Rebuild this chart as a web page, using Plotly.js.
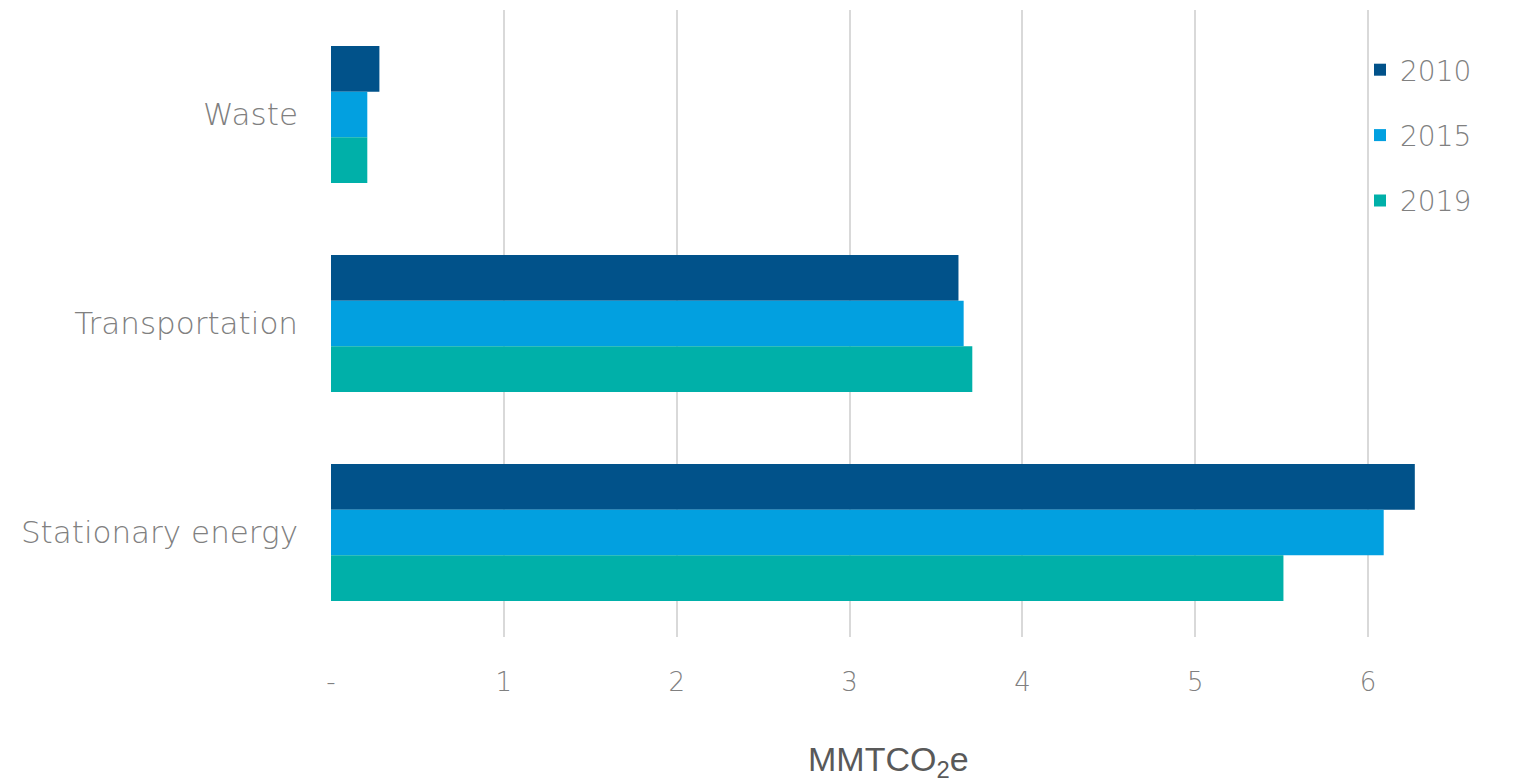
<!DOCTYPE html>
<html>
<head>
<meta charset="utf-8">
<script src="https://cdn.plot.ly/plotly-3.0.1.min.js"></script>
<style>
html,body{margin:0;padding:0;overflow:hidden;background:#fff;}
#chart{width:1541px;height:783px;}
</style>
</head>
<body>
<div id="chart"></div>
<script>
const categories = ["Waste", "Transportation", "Stationary energy"];
const years = ["2010", "2015", "2019"];
const values2010 = [0.28, 3.63, 6.27];
const values2015 = [0.21, 3.66, 6.09];
const values2019 = [0.21, 3.71, 5.51];
const colors = ["#01528A", "#02A0E0", "#00B0A9"];
const tickVals = [0, 1, 2, 3, 4, 5, 6, 7];
const tickText = ["-", "1", "2", "3", "4", "5", "6", "7"];
const axisTitle = "MMTCO<sub>2</sub>e";

const W = 1541, H = 783, ML = 331, MT = 10, MB = 146;
const plotW = W - ML, plotH = H - MT - MB;

const series = [values2010, values2015, values2019];
const traces = series.map((vals, i) => ({
  type: "bar",
  orientation: "h",
  name: years[i],
  x: vals,
  y: categories,
  marker: {color: colors[i], line: {width: 0}},
  legendgroup: years[i],
  hoverinfo: "x+name"
}));

const lightFont = "'DejaVu Sans', sans-serif";

const layout = {
  width: W,
  height: H,
  margin: {l: ML, r: 0, t: MT, b: MB},
  paper_bgcolor: "#ffffff",
  plot_bgcolor: "#ffffff",
  barmode: "group",
  bargap: 0.345,
  bargroupgap: 0,
  font: {family: lightFont, color: "#808080"},
  xaxis: {
    range: [0, 7],
    tickvals: tickVals,
    ticktext: tickText,
    showgrid: true,
    gridcolor: "#D9D9D9",
    gridwidth: 2,
    zeroline: false,
    showline: false,
    ticks: "",
    ticklabelstandoff: 27,
    tickfont: {size: 26, color: "#808080", family: lightFont, weight: 200}
  },
  yaxis: {
    autorange: "reversed",
    type: "category",
    showgrid: false,
    zeroline: false,
    showline: false,
    ticks: "",
    ticklabelstandoff: 32,
    tickfont: {size: 31, color: "#808080", family: lightFont, weight: 200}
  },
  legend: {
    x: (1360 - ML) / plotW,
    xref: "paper",
    xanchor: "left",
    y: (H - MB - 45) / plotH,
    yref: "paper",
    yanchor: "top",
    traceorder: "grouped",
    tracegroupgap: 26,
    font: {size: 28, color: "#808080", family: lightFont, weight: 200},
    bgcolor: "rgba(255,255,255,0)",
    itemwidth: 30
  },
  annotations: [{
    text: axisTitle,
    xref: "paper",
    yref: "paper",
    x: (888 - ML) / plotW,
    y: ((H - MB) - 761) / plotH,
    xanchor: "center",
    yanchor: "middle",
    showarrow: false,
    font: {size: 34, color: "#595959", family: "Arial, 'Liberation Sans', sans-serif"}
  }],
  showlegend: true
};

Plotly.newPlot("chart", traces, layout, {displayModeBar: false, staticPlot: true});
</script>
</body>
</html>
